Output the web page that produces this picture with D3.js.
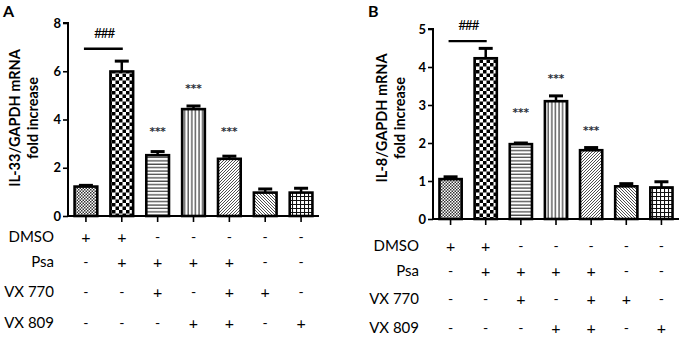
<!DOCTYPE html>
<html>
<head>
<meta charset="utf-8">
<script src="https://cdn.jsdelivr.net/npm/d3@7"></script>
<style>
  body { margin: 0; background: #fff; }
  svg { display: block; }
  text { font-family: Lato, "Open Sans", sans-serif; }
</style>
</head>
<body>
<svg id="chart" width="683" height="338"></svg>
<script>
// treatment table (one column per bar)
const rowLabels = ["DMSO", "Psa", "VX 770", "VX 809"]
const dmso  = ["+", "+", "-", "-", "-", "-", "-"]
const psa   = ["-", "+", "+", "+", "+", "-", "-"]
const vx770 = ["-", "-", "+", "-", "+", "+", "-"]
const vx809 = ["-", "-", "-", "+", "+", "-", "+"]

// panel A: IL-33
const il33Mean = [1.22, 5.99, 2.52, 4.43, 2.37, 0.97, 0.97]
const il33Err  = [0.05, 0.43, 0.15, 0.13, 0.11, 0.15, 0.18]
const il33Ticks = [0, 2, 4, 6, 8]
const il33Stars = ["", "", "***", "***", "***", "", ""]
const il33StarAt = [null, null, 3.57, 5.35, 3.57, null, null]

// panel B: IL-8
const il8Mean = [1.05, 4.23, 1.97, 3.10, 1.81, 0.86, 0.83]
const il8Err  = [0.06, 0.26, 0.03, 0.14, 0.07, 0.07, 0.15]
const il8Ticks = [0, 1, 2, 3, 4, 5]
const il8Stars = ["", "", "***", "***", "***", "", ""]
const il8StarAt = [null, null, 2.84, 3.74, 2.37, null, null]

const patternIds = ["pFine", "pChecker", "pHoriz", "pVert", "pDiagUp", "pDiagDown", "pGrid"]

const svg = d3.select("#chart")
const defs = svg.append("defs")

// fill patterns, one per treatment group
function makePattern(id, size) {
  const p = defs.append("pattern")
    .attr("id", id)
    .attr("patternUnits", "userSpaceOnUse")
    .attr("width", size)
    .attr("height", size)
  p.append("rect").attr("width", size).attr("height", size).attr("fill", "#fff")
  return p
}

let p = makePattern("pFine", 3)
p.append("rect").attr("width", 1.5).attr("height", 1.5).attr("fill", "#333")
p.append("rect").attr("x", 1.5).attr("y", 1.5).attr("width", 1.5).attr("height", 1.5).attr("fill", "#333")

p = makePattern("pChecker", 7)
p.append("rect").attr("width", 3.5).attr("height", 3.5).attr("fill", "#000")
p.append("rect").attr("x", 3.5).attr("y", 3.5).attr("width", 3.5).attr("height", 3.5).attr("fill", "#000")

p = makePattern("pHoriz", 3.4)
p.append("line").attr("x1", 0).attr("x2", 3.4).attr("y1", 1).attr("y2", 1).attr("stroke", "#111").attr("stroke-width", 1)

p = makePattern("pVert", 3.6)
p.append("line").attr("y1", 0).attr("y2", 3.6).attr("x1", 1).attr("x2", 1).attr("stroke", "#111").attr("stroke-width", 1)

p = makePattern("pDiagUp", 3)
p.append("path").attr("d", "M-1,1 L1,-1 M0,3 L3,0 M2,4 L4,2").attr("stroke", "#222").attr("stroke-width", 0.8)

p = makePattern("pDiagDown", 3)
p.append("path").attr("d", "M-1,2 L1,4 M0,0 L3,3 M2,-1 L4,1").attr("stroke", "#222").attr("stroke-width", 0.8)

p = makePattern("pGrid", 4)
p.append("path").attr("d", "M0,0.5 H4 M0.5,0 V4").attr("stroke", "#111").attr("stroke-width", 1.1)

function drawPanel(opts) {
  const g = svg.append("g")
  const x = d3.scaleBand()
    .domain(d3.range(opts.mean.length))
    .range([opts.left, opts.right])
    .paddingInner(0.3)
    .paddingOuter(0.15)
  const y = d3.scaleLinear().domain([0, opts.max]).range([opts.bottom, opts.top])

  // panel letter
  g.append("text")
    .attr("x", opts.letterX).attr("y", 17)
    .style("font-size", "16px").style("font-weight", "bold")
    .text(opts.letter)

  // y axis
  const yAxis = g.append("g")
    .attr("transform", `translate(${opts.left},0)`)
    .call(d3.axisLeft(y).tickValues(opts.ticks).tickSize(5).tickPadding(2).tickFormat(d3.format("d")))
  yAxis.select(".domain").attr("stroke-width", 2).attr("d", `M-5,${y(opts.max)}H0V${opts.bottom}`)
  yAxis.selectAll(".tick line").attr("stroke-width", 1.6)
  yAxis.selectAll(".tick text")
    .style("font-size", "13px").style("font-weight", "bold")
    .style("font-family", "Lato, sans-serif").attr("fill", "#000")

  // y label, two lines
  const lab = g.append("text")
    .attr("transform", `translate(${opts.labelX},${opts.labelY}) rotate(-90)`)
    .attr("text-anchor", "middle")
    .style("font-size", "14.5px").style("font-weight", "bold")
  lab.append("tspan").attr("x", 0).attr("dy", 0).text(opts.label1)
  lab.append("tspan").attr("x", 0).attr("dy", 18).text(opts.label2)

  // error bars (upper only)
  opts.mean.forEach((m, i) => {
    const cx = x(i) + x.bandwidth() / 2
    g.append("line")
      .attr("x1", cx).attr("x2", cx)
      .attr("y1", y(m)).attr("y2", y(m + opts.err[i]))
      .attr("stroke", "#000").attr("stroke-width", 2.5)
    g.append("line")
      .attr("x1", cx - 7).attr("x2", cx + 7)
      .attr("y1", y(m + opts.err[i])).attr("y2", y(m + opts.err[i]))
      .attr("stroke", "#000").attr("stroke-width", 3)
  })

  // bars
  g.selectAll("rect.bar")
    .data(opts.mean)
    .join("rect")
    .attr("class", "bar")
    .attr("x", (d, i) => x(i) + 1.2)
    .attr("width", x.bandwidth() - 2.4)
    .attr("y", d => y(d))
    .attr("height", d => opts.bottom - y(d))
    .attr("fill", (d, i) => `url(#${patternIds[i]})`)
    .attr("stroke", "#000")
    .attr("stroke-width", 2.6)

  // x axis with ticks under each bar
  g.append("line")
    .attr("x1", opts.left).attr("x2", opts.right)
    .attr("y1", opts.bottom).attr("y2", opts.bottom)
    .attr("stroke", "#000").attr("stroke-width", 2)
  opts.mean.forEach((m, i) => {
    const cx = x(i) + x.bandwidth() / 2
    g.append("line")
      .attr("x1", cx).attr("x2", cx)
      .attr("y1", opts.bottom).attr("y2", opts.bottom + 6)
      .attr("stroke", "#000").attr("stroke-width", 1.6)
  })

  // significance
  const c0 = x(0) + x.bandwidth() / 2
  const c1 = x(1) + x.bandwidth() / 2
  g.append("line")
    .attr("x1", c0 - 2).attr("x2", c1 + 1)
    .attr("y1", y(opts.hashLine)).attr("y2", y(opts.hashLine))
    .attr("stroke", "#000").attr("stroke-width", 2.4)
  g.append("text")
    .attr("x", (c0 + c1) / 2).attr("y", y(opts.hashText))
    .attr("dy", "0.35em").attr("text-anchor", "middle")
    .style("font-size", "14px").style("letter-spacing", "-1.5px")
    .text("###")

  opts.stars.forEach((s, i) => {
    if (!s) return
    g.append("text")
      .attr("x", x(i) + x.bandwidth() / 2).attr("y", y(opts.starAt[i]))
      .attr("dy", "0.45em").attr("text-anchor", "middle")
      .style("font-family", "'DejaVu Sans', sans-serif")
      .style("font-size", "10.5px").style("font-weight", "bold")
      .attr("fill", "#2b303a")
      .text(s)
  })

  // treatment table
  const rows = [dmso, psa, vx770, vx809]
  rows.forEach((row, r) => {
    const ry = opts.rowY[r]
    g.append("text")
      .attr("x", opts.left - 14).attr("y", ry)
      .attr("dy", "0.35em").attr("text-anchor", "end")
      .style("font-size", "15px")
      .text(rowLabels[r])
    row.forEach((sign, i) => {
      g.append("text")
        .attr("x", x(i) + x.bandwidth() / 2).attr("y", ry)
        .attr("dy", "0.35em").attr("text-anchor", "middle")
        .style("font-size", sign === "+" ? "16px" : "14px")
        .text(sign)
    })
  })
}

drawPanel({
  letter: "A", letterX: 3,
  mean: il33Mean, err: il33Err, ticks: il33Ticks, max: 8,
  stars: il33Stars, starAt: il33StarAt,
  hashLine: 6.93, hashText: 7.6,
  left: 68, right: 319, top: 23, bottom: 216,
  label1: "IL-33/GAPDH mRNA", label2: "fold increase", labelX: 20, labelY: 118,
  rowY: [237, 262, 292, 323]
})

drawPanel({
  letter: "B", letterX: 368,
  mean: il8Mean, err: il8Err, ticks: il8Ticks, max: 5,
  stars: il8Stars, starAt: il8StarAt,
  hashLine: 4.68, hashText: 5.1,
  left: 433, right: 679, top: 29, bottom: 219,
  label1: "IL-8/GAPDH mRNA", label2: "fold increase", labelX: 387, labelY: 118,
  rowY: [246, 271, 299, 328]
})
</script>
</body>
</html>
